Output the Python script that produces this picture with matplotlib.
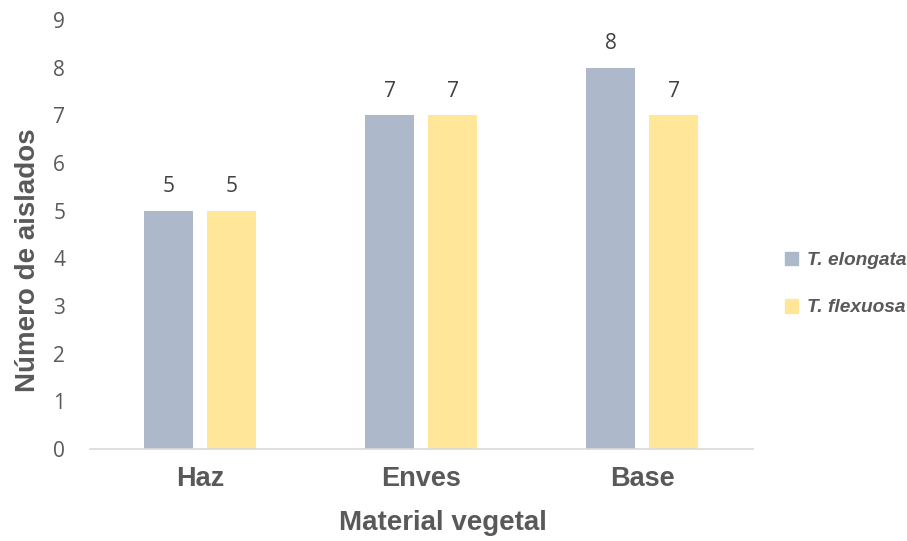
import numpy as np
import matplotlib
matplotlib.use("Agg")
import matplotlib.pyplot as plt
import matplotlib.patches as mpatches

# data
categories = ["Haz", "Enves", "Base"]
series_names = ["T. elongata", "T. flexuosa"]
elongata = [5, 7, 8]
flexuosa = [5, 7, 7]

C_BLUE = "#ADB9CA"
C_YELLOW = "#FFE699"
C_TEXT = "#595959"
C_AXIS = "#D9D9D9"

fig = plt.figure(figsize=(9.07, 5.41), dpi=100, facecolor="white")
ax = fig.add_axes([0.0987, 0.170, 0.731, 0.793])

x = np.arange(len(categories))
w = 0.222
off = 0.1425
b1 = ax.bar(x - off, elongata, w, color=C_BLUE, label=series_names[0])
b2 = ax.bar(x + off, flexuosa, w, color=C_YELLOW, label=series_names[1])

for bars, vals in ((b1, elongata), (b2, flexuosa)):
    for rect, v in zip(bars, vals):
        ax.annotate(str(v), (rect.get_x() + rect.get_width() / 2, v),
                    xytext=(0, 9.5), textcoords="offset points",
                    ha="center", va="bottom", fontsize=15,
                    family="Open Sans", color="#404040")

ax.set_xlim(-0.5, 2.5)
ax.set_ylim(0, 9)
ax.set_yticks(range(0, 10))
ax.set_xticks(x)
ax.set_xticklabels(categories, fontsize=19.5, fontweight="bold",
                   family="Liberation Sans", color=C_TEXT)
for t in ax.get_yticklabels():
    t.set_family("Open Sans")
    t.set_fontsize(15)
    t.set_color(C_TEXT)
ax.tick_params(axis="both", length=0)
ax.tick_params(axis="y", pad=17.5)
ax.tick_params(axis="x", pad=12.5)

for s in ("top", "right", "left"):
    ax.spines[s].set_visible(False)
ax.spines["bottom"].set_color(C_AXIS)
ax.spines["bottom"].set_linewidth(1.2)

ax.set_xlabel("Material vegetal", fontsize=20, fontweight="bold",
              family="Liberation Sans", color=C_TEXT)
ax.set_ylabel("Número de aislados", fontsize=20, fontweight="bold",
              family="Liberation Sans", color=C_TEXT)
ax.xaxis.label.set_verticalalignment("center")
ax.yaxis.label.set_verticalalignment("center")
ax.xaxis.set_label_coords(0.5332, -0.172)
ax.yaxis.set_label_coords(-0.093, 0.4406)

handles = [mpatches.Patch(color=C_BLUE, label=series_names[0]),
           mpatches.Patch(color=C_YELLOW, label=series_names[1])]
leg = fig.legend(handles=handles, loc="center left",
                 bbox_to_anchor=(0.846, 0.475), frameon=False,
                 handlelength=0.72, handleheight=0.72, handletextpad=0.45,
                 labelspacing=1.55,
                 prop=dict(family="Liberation Sans", weight="bold",
                           style="italic", size=13.8))
for t in leg.get_texts():
    t.set_color(C_TEXT)

fig.savefig("out.png", dpi=100, facecolor="white")
